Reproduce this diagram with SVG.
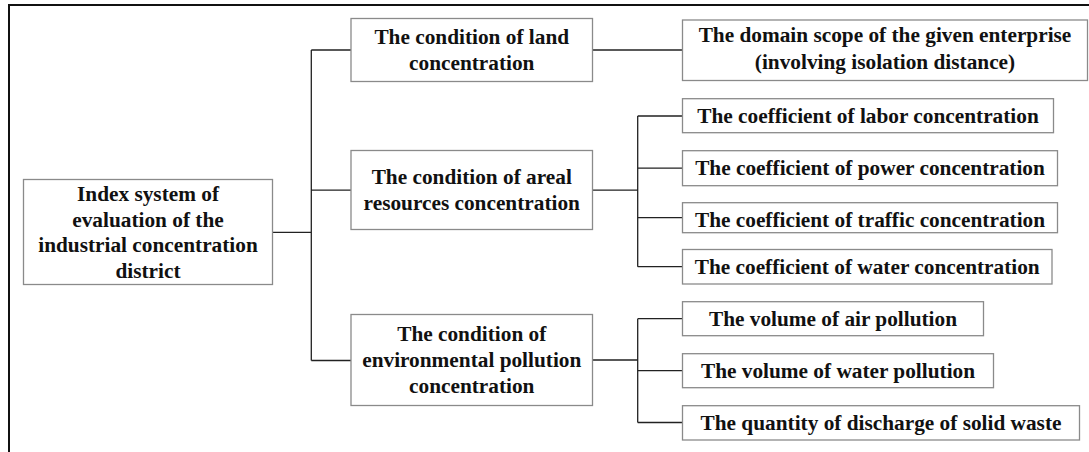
<svg xmlns="http://www.w3.org/2000/svg" width="1089" height="452" viewBox="0 0 1089 452">
<style>
.box{fill:#fff;stroke:#8a8a8a;stroke-width:1.3}
.t{font-family:'Liberation Serif','DejaVu Serif',serif;font-weight:bold;font-size:21.3px;fill:#111;text-anchor:middle}
.c{fill:none;stroke:#222;stroke-width:1.3}
.frame{fill:none;stroke:#111;stroke-width:2}
</style>
<rect width="1089" height="452" fill="#fff"/>
<path class="frame" d="M9,460 V5 H1095"/>
<g id="connectors">
<path class="c" d="M272.5,232.3 H311.3 M311.3,50 V360.5 M311.3,50 H351 M311.3,190.2 H351 M311.3,360.5 H351"/>
<path class="c" d="M592.5,50 H682.5"/>
<path class="c" d="M592.5,190.2 H637.7 M637.7,116 V266.7 M637.7,116 H682.5 M637.7,168.2 H682.5 M637.7,217.7 H682.5 M637.7,266.7 H682.5"/>
<path class="c" d="M592.5,360 H637.7 M637.7,318.7 V422.5 M637.7,318.7 H682.5 M637.7,370.7 H682.5 M637.7,422.5 H682.5"/>
</g>
<g id="root">
<rect class="box" x="23.5" y="179.5" width="249" height="105"/>
<text class="t" x="148" y="201">Index system of</text>
<text class="t" x="148" y="226.7">evaluation of the</text>
<text class="t" x="148" y="252.3">industrial concentration</text>
<text class="t" x="148" y="278">district</text>
</g>
<g id="land">
<rect class="box" x="351" y="18.5" width="241.5" height="63"/>
<text class="t" x="471.75" y="44">The condition of land</text>
<text class="t" x="471.75" y="70">concentration</text>
</g>
<g id="areal">
<rect class="box" x="351" y="150.5" width="241.5" height="79"/>
<text class="t" x="471.75" y="184.3">The condition of areal</text>
<text class="t" x="471.75" y="210">resources concentration</text>
</g>
<g id="env">
<rect class="box" x="351" y="314.5" width="241.5" height="91"/>
<text class="t" x="471.75" y="340.7">The condition of</text>
<text class="t" x="471.75" y="366.7">environmental pollution</text>
<text class="t" x="471.75" y="392.7">concentration</text>
</g>
<g id="domain">
<rect class="box" x="682.5" y="20" width="405" height="60.5"/>
<text class="t" x="885" y="42.3">The domain scope of the given enterprise</text>
<text class="t" x="885" y="68.7">(involving isolation distance)</text>
</g>
<g id="labor">
<rect class="box" x="682.5" y="98.7" width="371" height="34"/>
<text class="t" x="868" y="123.3">The coefficient of labor concentration</text>
</g>
<g id="power">
<rect class="box" x="682.5" y="150.7" width="375" height="35"/>
<text class="t" x="870" y="175.3">The coefficient of power concentration</text>
</g>
<g id="traffic">
<rect class="box" x="682.5" y="202.7" width="375" height="30"/>
<text class="t" x="870" y="226.5">The coefficient of traffic concentration</text>
</g>
<g id="water">
<rect class="box" x="682.5" y="249.5" width="369.5" height="34.5"/>
<text class="t" x="867.2" y="274">The coefficient of water concentration</text>
</g>
<g id="air">
<rect class="box" x="682.5" y="301.7" width="301" height="34"/>
<text class="t" x="833" y="326">The volume of air pollution</text>
</g>
<g id="waterpol">
<rect class="box" x="682.5" y="353.7" width="311" height="34"/>
<text class="t" x="838" y="377.7">The volume of water pollution</text>
</g>
<g id="solid">
<rect class="box" x="682.5" y="405.7" width="397" height="34.3"/>
<text class="t" x="881" y="430">The quantity of discharge of solid waste</text>
</g>
</svg>
